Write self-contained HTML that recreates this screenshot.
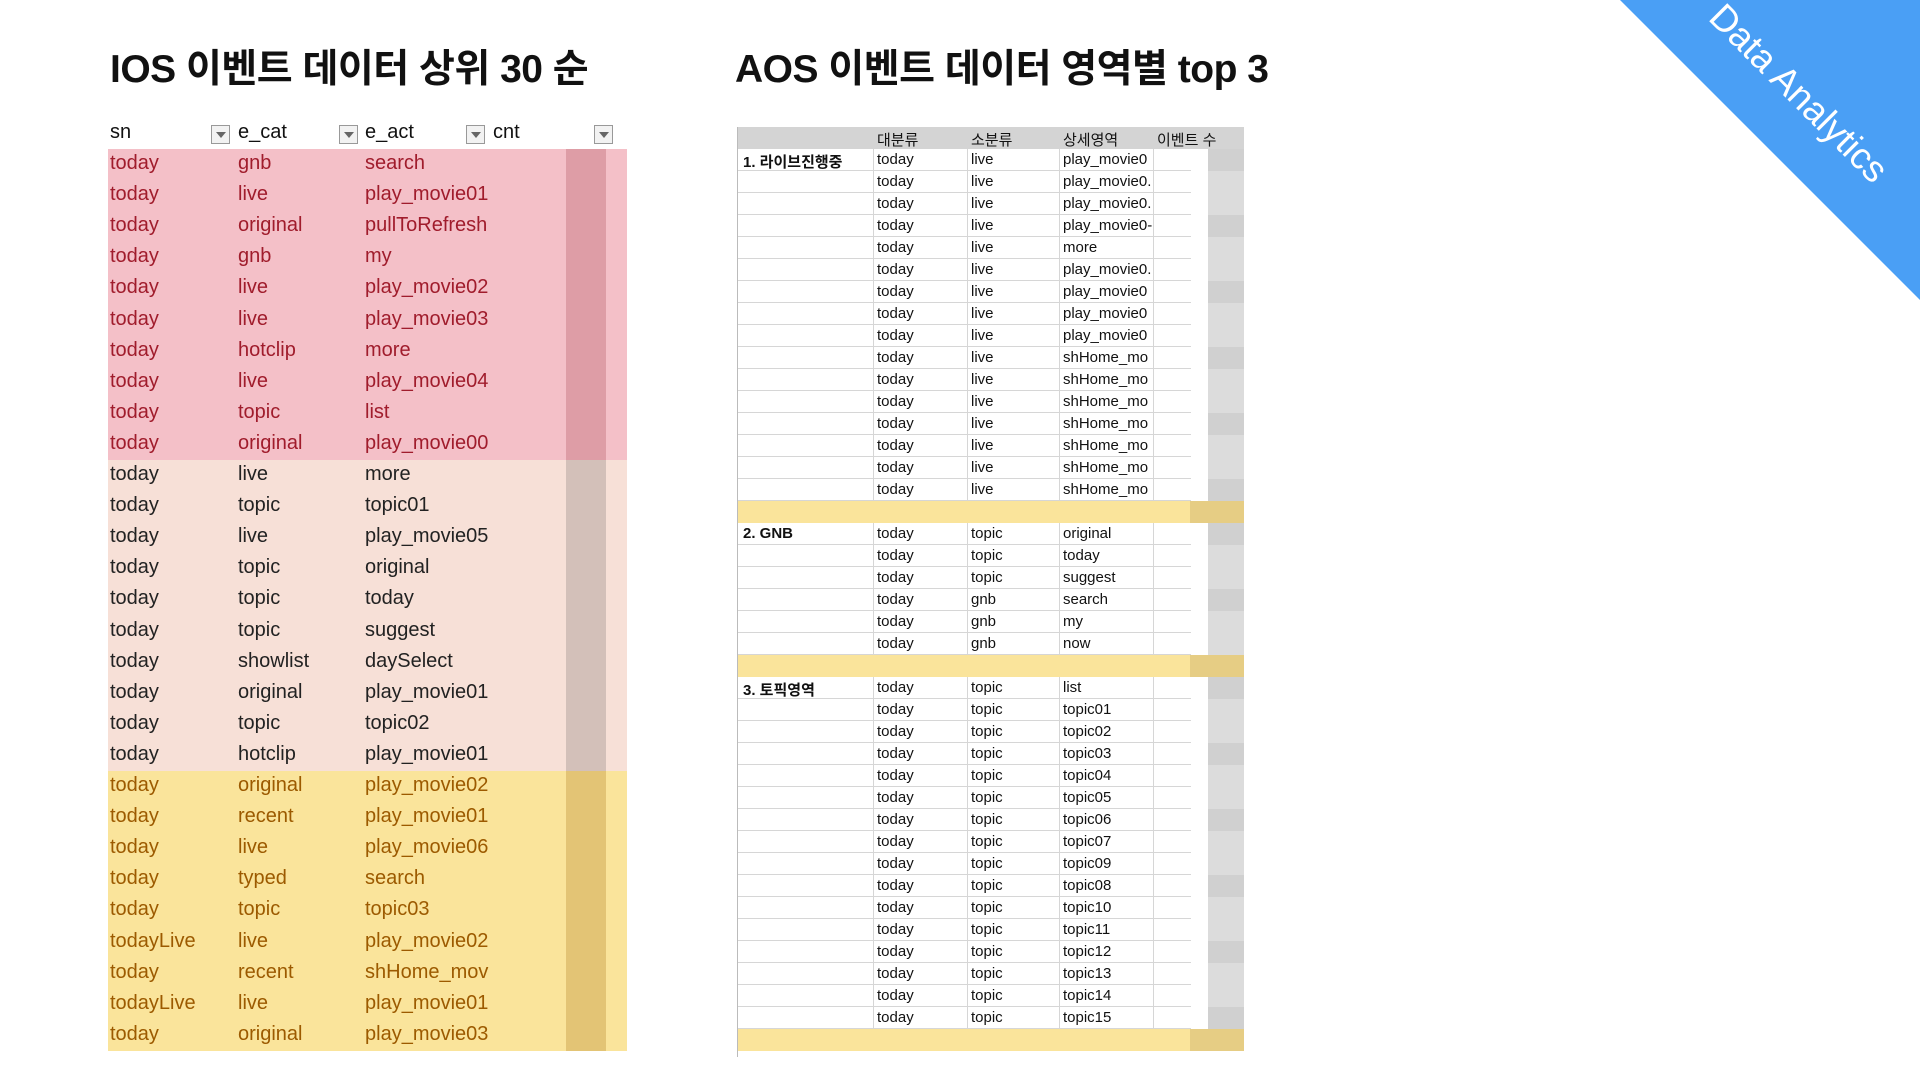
<!DOCTYPE html>
<html><head><meta charset="utf-8">
<style>
body{margin:0;width:1920px;height:1080px;background:#fff;position:relative;overflow:hidden;font-family:"Liberation Sans","Noto Sans CJK KR",sans-serif}
.title{position:absolute;top:38px;font-size:39px;font-weight:bold;color:#111;letter-spacing:-0.5px;white-space:nowrap}
.abs{position:absolute}
.lc{position:absolute;font-size:20px;white-space:nowrap}
.rc{position:absolute;font-size:15px;white-space:nowrap;color:#111}
.filt{position:absolute;width:19px;height:19px;border:1px solid #999;background:#f2f2f2;box-sizing:border-box}
.filt:after{content:"";position:absolute;left:4px;top:6px;border-left:5px solid transparent;border-right:5px solid transparent;border-top:6px solid #666}
</style></head>
<body>
<div class="title" style="left:110px">IOS 이벤트 데이터 상위 30 순</div>
<div class="title" style="left:735px">AOS 이벤트 데이터 영역별 top 3</div>
<svg class="abs" style="left:0;top:0" width="1920" height="1080">
<polygon points="1620,0 1920,0 1920,300" fill="#4a9ff5"/>
<text x="1790" y="102" fill="#fff" font-size="37" font-family="Liberation Sans" transform="rotate(45 1790 102)" text-anchor="middle">Data Analytics</text>
</svg>
<div id="left"></div>
<div id="right"></div>
<script>
const iosSn=["today","today","today","today","today","today","today","today","today","today","today","today","today","today","today","today","today","today","today","today","today","today","today","today","today","todayLive","today","todayLive","today"];
const iosCat=["gnb","live","original","gnb","live","live","hotclip","live","topic","original","live","topic","live","topic","topic","topic","showlist","original","topic","hotclip","original","recent","live","typed","topic","live","recent","live","original"];
const iosAct=["search","play_movie01","pullToRefresh","my","play_movie02","play_movie03","more","play_movie04","list","play_movie00","more","topic01","play_movie05","original","today","suggest","daySelect","play_movie01","topic02","play_movie01","play_movie02","play_movie01","play_movie06","search","topic03","play_movie02","shHome_mov","play_movie01","play_movie03"];
const headers=["sn","e_cat","e_act","cnt"];
const L=document.getElementById('left');
const colX=[110,238,365,493],filtX=[211,339,466,594];
headers.forEach((h,i)=>{
 const d=document.createElement('div');d.className='lc';d.style.left=colX[i]+'px';d.style.top='121px';d.style.color='#111';d.textContent=h;
 
 
 L.appendChild(d);
 const f=document.createElement('div');f.className='filt';f.style.left=filtX[i]+'px';f.style.top='125px';
 
 
 L.appendChild(f);
});
const top0=149,rh=31.1;
iosSn.forEach((s,i)=>{
 const bg=i<10?'#f4c0c8':i<20?'#f7e0d7':'#fae49b';
 const fg=i<10?'#a01c2c':i<20?'#222':'#9c5a00';
 const cell=i<10?'#d8949e':i<20?'#c9b8b2':'#ddbc6c';
 const r=document.createElement('div');r.className='abs';
 r.style.cssText=`left:108px;top:${top0+i*rh}px;width:519px;height:${rh+0.5}px;background:${bg}`;
 
 
 L.appendChild(r);
 const c=document.createElement('div');c.className='abs';
 c.style.cssText=`left:566px;top:${top0+i*rh}px;width:40px;height:${rh+0.5}px;background:${cell};opacity:0.8`;
 
 
 L.appendChild(c);
 [s,iosCat[i],iosAct[i]].forEach((t,j)=>{
  const d=document.createElement('div');d.className='lc';
  d.style.cssText=`left:${colX[j]}px;top:${top0+i*rh+3}px;color:${fg}`;d.textContent=t;
  
  
  L.appendChild(d);
 });
});
// right table
const sections=["1. 라이브진행중","2. GNB","3. 토픽영역"];
const secCat=[Array(16).fill("live"),["topic","topic","topic","gnb","gnb","gnb"],Array(16).fill("topic")];
const secAct=[["play_movie0","play_movie0.","play_movie0.","play_movie0-","more","play_movie0.","play_movie0","play_movie0","play_movie0","shHome_mo","shHome_mo","shHome_mo","shHome_mo","shHome_mo","shHome_mo","shHome_mo"],["original","today","suggest","search","my","now"],["list","topic01","topic02","topic03","topic04","topic05","topic06","topic07","topic09","topic08","topic10","topic11","topic12","topic13","topic14","topic15"]];
const rHead=["","대분류","소분류","상세영역","이벤트 수"];
const rx=[738,873,967,1059,1153,1244];
const R=document.getElementById('right');
function box(l,t,w,h,bg,name){const d=document.createElement('div');d.className='abs';d.style.cssText=`left:${l}px;top:${t}px;width:${w}px;height:${h}px;background:${bg}`;
 
 
 R.appendChild(d);return d;}
function txt(l,t,s,name,bold){const d=document.createElement('div');d.className='rc';d.style.left=l+'px';d.style.top=t+'px';if(bold)d.style.fontWeight='bold';d.textContent=s;
 
 
 R.appendChild(d);}
box(738,127,506,22,'#d4d4d4','aos-header-row');
rHead.forEach((h,i)=>{if(h)txt(rx[i]+4,129,h,'aos-header-'+i);});
box(737,127,1,930,'#bbb','aos-left-border');
let y=149;const rrh=22;
sections.forEach((sec,si)=>{
 secCat[si].forEach((c,k)=>{
  box(738,y+rrh-1,453,1,'#d6d6d6','aos-row-line');
  [873,967,1059,1153].forEach(x=>box(x,y,1,rrh,'#d6d6d6','aos-col-line'));
  box(1208,y,36,rrh,k%3==0?'#d0d0d0':'#dcdcdc','aos-count-cell');
  if(k==0)txt(743,y+2,sec,'aos-section-'+(si+1),true);
  txt(877,y+2,'today','aos-cell');
  txt(971,y+2,c,'aos-cell');
  txt(1063,y+2,secAct[si][k],'aos-cell');
  y+=rrh;
 });
 box(738,y,506,rrh,'#fae49b','aos-separator');
 box(1190,y,54,rrh,'#e6cd84','aos-separator-cell');
 y+=rrh;
});
</script>
</body></html>
